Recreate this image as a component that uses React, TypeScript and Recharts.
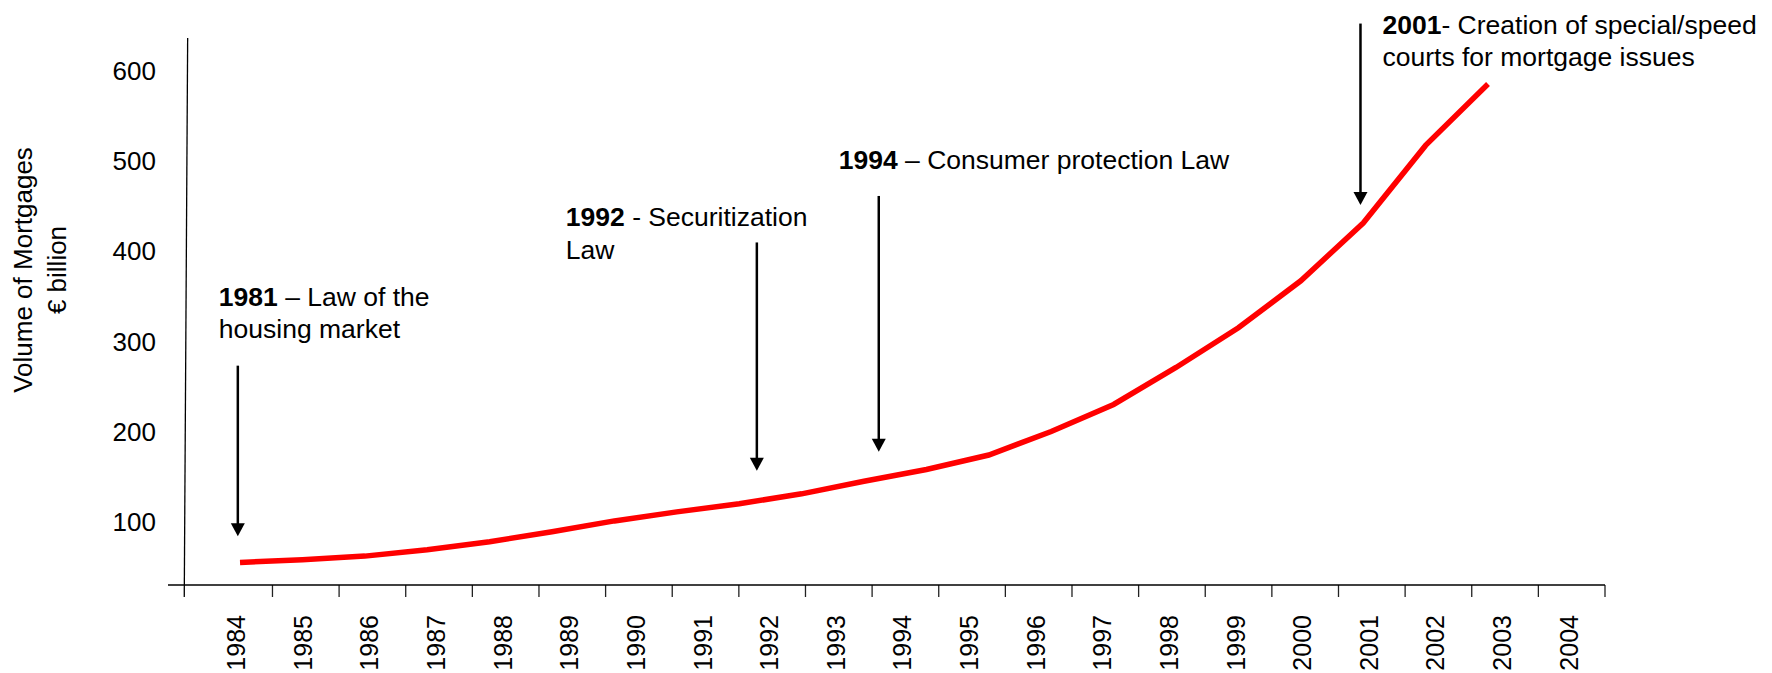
import React from 'react';
import { LineChart, Line, XAxis, YAxis, ReferenceLine } from 'recharts';

// categories and values
const years = [
  1984, 1985, 1986, 1987, 1988, 1989, 1990, 1991, 1992, 1993, 1994,
  1995, 1996, 1997, 1998, 1999, 2000, 2001, 2002, 2003, 2004,
];
const mortgageVolume = [
  55, 58, 62, 69, 78, 89, 101, 111, 120, 131, 145,
  158, 174, 200, 230, 271, 315, 367, 431, 517, 585,
];
const yTicks = [100, 200, 300, 400, 500, 600];

const eventYears = ['1981', '1992', '1994', '2001'];
const eventText = [
  [' – Law of the', 'housing market'],
  [' - Securitization', 'Law'],
  [' – Consumer protection Law'],
  ['- Creation of special/speed', 'courts for mortgage issues'],
];

// layout of the arrows (axis units) and their text offsets (px)
const arrowLayout = [
  { x: 1983.98, top: 273, tip: 84, dx: -19, dy: -69 },
  { x: 1991.77, top: 409.5, tip: 156.5, dx: -191, dy: -25 },
  { x: 1993.6, top: 461, tip: 177.5, dx: -40, dy: -36 },
  { x: 2000.83, top: 652, tip: 451, dx: 22, dy: 1 },
];

const FONT = '"Liberation Sans", Arial, Helvetica, sans-serif';
const Y_MIN = 30;
const Y_MAX = 636;
const TICK_BOTTOM = 16.7;

const data = years.map((year, i) => ({ year, volume: mortgageVolume[i] }));

const YearTick = ({ x, y, payload }: any) => (
  <text
    x={x - 3}
    y={y}
    transform={`rotate(-90 ${x - 3} ${y})`}
    textAnchor="end"
    dominantBaseline="central"
    fontFamily={FONT}
    fontSize={25}
    fill="#000"
  >
    {payload.value}
  </text>
);

const YTitle = ({ viewBox }: any) => {
  const cy = viewBox.y + 232;
  return (
    <g fontFamily={FONT} fontSize={26} fill="#000">
      <text x={22.5} y={cy} transform={`rotate(-90 22.5 ${cy})`} textAnchor="middle" dominantBaseline="central">
        Volume of Mortgages
      </text>
      <text x={57} y={cy} transform={`rotate(-90 57 ${cy})`} textAnchor="middle" dominantBaseline="central">
        € billion
      </text>
    </g>
  );
};

const makeArrow = (idx: number) => (props: any) => {
  const { x1, y1, y2 } = props;
  const top = Math.min(y1, y2);
  const tip = Math.max(y1, y2);
  const { dx, dy } = arrowLayout[idx];
  const lines = eventText[idx];
  const tx = x1 + dx;
  const ty = top + dy;
  return (
    <g>
      <line x1={x1} y1={top} x2={x1} y2={tip - 12} stroke="#000" strokeWidth={2.5} />
      <polygon points={`${x1 - 7},${tip - 13} ${x1 + 7},${tip - 13} ${x1},${tip}`} fill="#000" />
      <g fontFamily={FONT} fontSize={26.5} fill="#000">
        <text x={tx} y={ty} dominantBaseline="central">
          <tspan fontWeight="bold">{eventYears[idx]}</tspan>
          <tspan>{lines[0]}</tspan>
        </text>
        {lines[1] && (
          <text x={tx} y={ty + 32.5} dominantBaseline="central">
            {lines[1]}
          </text>
        )}
      </g>
    </g>
  );
};

export default function App() {
  return (
    <div style={{ position: 'absolute', left: 0, top: 0, background: '#fff' }}>
      <LineChart width={1772} height={673} data={data} margin={{ top: 38, right: 167, bottom: 0, left: 0 }}>
        <XAxis
          xAxisId="years"
          type="number"
          dataKey="year"
          domain={[1982.932, 2004.5]}
          allowDataOverflow
          ticks={years}
          interval={0}
          tickLine={false}
          axisLine={{ stroke: '#000', strokeWidth: 1.3 }}
          tickSize={0}
          tickMargin={30}
          tick={<YearTick />}
          height={88}
        />
        <XAxis
          xAxisId="line"
          type="number"
          dataKey="year"
          domain={[1982.846, 2005.875]}
          allowDataOverflow
          height={0}
          hide
        />
        <YAxis
          type="number"
          width={168}
          domain={[Y_MIN, Y_MAX]}
          allowDataOverflow
          ticks={yTicks}
          interval={0}
          axisLine={false}
          tickLine={false}
          tickSize={0}
          tickMargin={12}
          tick={{ fontSize: 26, fill: '#000', fontFamily: FONT }}
          label={{ content: <YTitle /> }}
        />

        {/* y axis line, slightly slanted like the original */}
        <ReferenceLine
          xAxisId="years"
          segment={[{ x: 1983.227, y: Y_MAX }, { x: 1983.176, y: TICK_BOTTOM }]}
          stroke="#000"
          strokeWidth={1.3}
          ifOverflow="visible"
        />
        {/* tick marks between the years */}
        {years.map((yr) => (
          <ReferenceLine
            key={`t${yr}`}
            xAxisId="years"
            segment={[{ x: yr + 0.5, y: Y_MIN }, { x: yr + 0.5, y: TICK_BOTTOM }]}
            stroke="#222"
            strokeWidth={1.3}
            ifOverflow="visible"
          />
        ))}

        <Line
          xAxisId="line"
          type="linear"
          dataKey="volume"
          stroke="#ff0000"
          strokeWidth={5.5}
          dot={false}
          isAnimationActive={false}
        />

        {arrowLayout.map((a, i) => (
          <ReferenceLine
            key={`a${i}`}
            xAxisId="years"
            segment={[{ x: a.x, y: a.top }, { x: a.x, y: a.tip }]}
            ifOverflow="visible"
            shape={makeArrow(i)}
          />
        ))}
      </LineChart>
    </div>
  );
}
